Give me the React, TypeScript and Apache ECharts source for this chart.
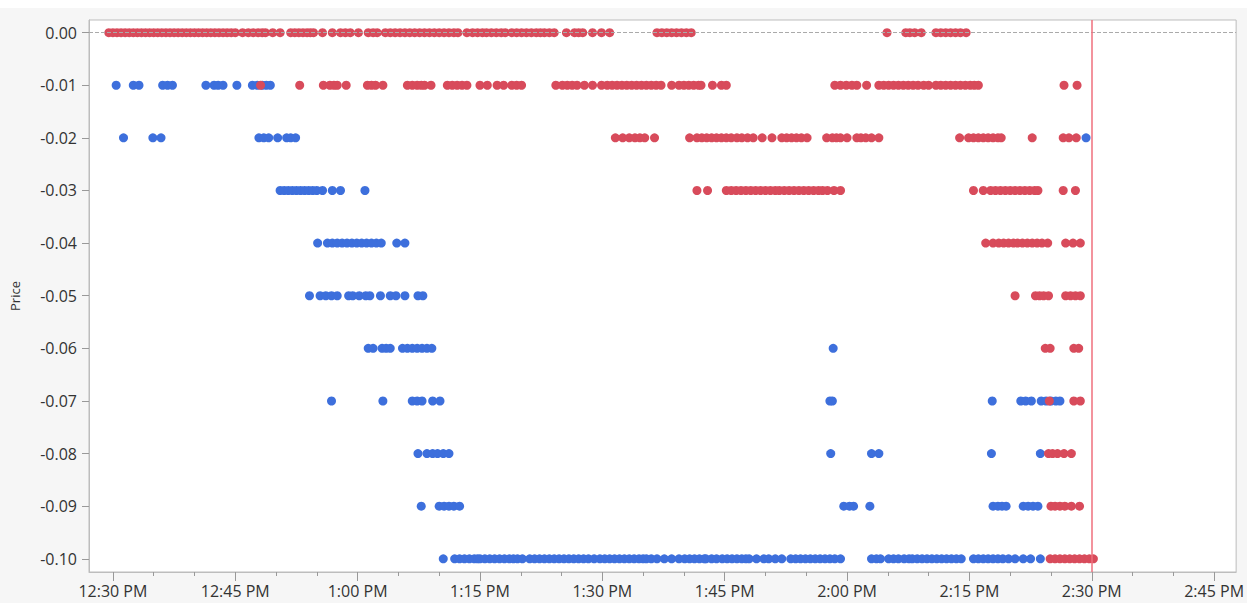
import * as echarts from "echarts";
import React, { useEffect, useRef } from "react";

// times are minutes after 12:00 PM
const red00 = [29.5, 30.0, 30.5, 31.0, 31.5, 32.0, 32.5, 33.0, 33.5, 34.0, 34.5, 35.0, 35.5, 36.0, 36.5, 37.0, 37.5, 38.0, 38.5, 39.0, 39.5, 40.0, 40.5, 41.0, 41.5, 42.0, 42.5, 43.0, 43.5, 44.0, 44.5, 45.0, 45.9, 46.6, 47.2, 47.8, 48.3, 48.7, 49.6, 50.5, 51.8, 52.3, 52.8, 53.3, 53.8, 54.2, 54.6, 55.7, 56.9, 57.9, 58.5, 59.1, 60.1, 61.3, 61.9, 62.4, 63.4, 64.0, 64.6, 65.2, 65.8, 66.4, 67.0, 67.6, 68.2, 68.8, 69.4, 70.0, 70.6, 71.2, 71.8, 72.3, 73.4, 74.1, 74.7, 75.3, 75.8, 76.4, 77.0, 77.6, 78.1, 78.9, 79.5, 80.1, 80.7, 81.3, 81.9, 82.4, 82.9, 83.5, 84.1, 85.6, 86.6, 87.1, 87.6, 88.8, 89.9, 90.9, 96.7, 97.3, 97.9, 98.5, 99.1, 99.7, 100.3, 100.9, 124.9, 127.2, 127.7, 128.3, 129.1, 130.9, 131.5, 132.1, 132.7, 133.3, 133.9, 134.6];
const red01 = [48.1, 52.9, 55.8, 56.6, 57.1, 57.5, 58.6, 61.2, 61.7, 62.2, 63.1, 66.1, 66.7, 67.3, 67.8, 68.2, 69.0, 71.0, 71.6, 72.2, 72.8, 73.4, 75.0, 75.9, 77.1, 77.9, 78.9, 79.5, 80.1, 84.3, 85.1, 85.7, 86.3, 86.9, 87.8, 88.8, 89.9, 90.6, 91.2, 91.8, 92.4, 93.0, 93.6, 94.2, 94.8, 95.4, 96.0, 96.6, 97.2, 98.5, 99.4, 100.0, 100.6, 101.2, 101.8, 102.1, 103.5, 104.6, 105.2, 118.5, 119.2, 119.9, 120.6, 121.2, 122.4, 123.9, 124.5, 125.1, 125.7, 126.3, 126.9, 127.5, 128.1, 128.7, 129.4, 130.0, 130.9, 131.5, 132.1, 132.7, 133.3, 133.9, 134.5, 135.1, 135.6, 136.1, 146.6, 148.2];
const red02 = [91.6, 92.5, 93.3, 94.0, 94.6, 95.2, 96.4, 100.7, 101.6, 102.2, 102.8, 103.4, 104.0, 104.6, 105.2, 105.8, 106.5, 107.1, 107.8, 108.5, 109.6, 110.8, 112.0, 112.6, 113.2, 113.8, 114.4, 115.1, 117.5, 118.2, 118.7, 119.2, 120.0, 121.2, 121.7, 122.3, 123.0, 123.9, 133.8, 134.9, 135.5, 136.1, 136.7, 137.3, 137.9, 138.5, 138.9, 142.7, 146.5, 147.2, 148.1];
const red03 = [101.6, 102.9, 105.2, 105.8, 106.4, 107.0, 107.6, 108.2, 108.8, 109.4, 110.0, 110.6, 111.2, 111.7, 112.3, 112.9, 113.5, 114.1, 114.7, 115.3, 115.9, 116.5, 117.0, 117.6, 118.4, 119.2, 135.5, 136.7, 137.6, 138.2, 138.8, 139.4, 140.0, 140.6, 141.2, 141.8, 142.4, 143.0, 143.4, 146.5, 148.0];
const red04 = [137.0, 137.9, 138.6, 139.2, 139.8, 140.4, 140.9, 141.5, 142.1, 142.7, 143.3, 143.9, 144.6, 146.8, 147.7, 148.6];
const red05 = [140.6, 143.1, 143.6, 144.1, 144.7, 146.8, 147.4, 148.0, 148.6];
const red06 = [144.3, 144.9, 147.8, 148.4];
const red07 = [144.8, 147.8, 148.6];
const red08 = [144.7, 145.2, 145.8, 146.6, 147.5];
const red09 = [145.0, 145.5, 146.1, 146.7, 147.5, 148.5];
const red10 = [144.9, 145.5, 146.1, 146.7, 147.3, 147.9, 148.5, 149.1, 149.7, 150.2];

const blue01 = [30.4, 32.5, 33.2, 36.1, 36.7, 37.3, 41.4, 42.4, 42.9, 43.5, 45.2, 47.1, 47.7, 48.3, 48.8, 49.3];
const blue02 = [31.3, 34.9, 35.9, 47.9, 48.5, 49.1, 50.2, 51.3, 51.8, 52.4, 149.3];
const blue03 = [50.5, 51.0, 51.5, 52.0, 52.5, 53.0, 53.5, 54.0, 54.5, 55.0, 55.7, 56.9, 57.9, 60.9];
const blue04 = [55.1, 56.3, 56.9, 57.5, 58.1, 58.7, 59.3, 59.9, 60.5, 61.1, 61.7, 62.3, 62.9, 64.8, 65.8];
const blue05 = [54.1, 55.4, 56.1, 56.8, 57.5, 58.9, 59.4, 60.2, 61.0, 61.5, 62.8, 64.0, 64.7, 65.8, 67.4, 68.0];
const blue06 = [61.3, 61.9, 63.0, 63.5, 64.0, 65.5, 66.1, 66.7, 67.3, 67.9, 68.5, 69.1, 118.3];
const blue07 = [56.8, 63.1, 66.7, 67.3, 67.9, 69.2, 70.1, 117.9, 118.2, 137.8, 141.3, 141.9, 142.6, 143.8, 144.4, 145.0, 145.6, 146.1];
const blue08 = [67.4, 68.5, 69.2, 69.8, 70.5, 71.2, 118.0, 123.0, 123.9, 137.7, 143.7];
const blue09 = [67.8, 70.0, 70.6, 71.2, 71.8, 72.5, 119.6, 120.3, 120.8, 122.8, 137.9, 138.5, 139.0, 139.5, 141.6, 142.2, 142.8, 143.4];
const blue10 = [70.5, 71.9, 72.5, 73.1, 73.7, 74.3, 74.7, 75.0, 75.6, 76.2, 76.8, 77.4, 78.0, 78.6, 79.1, 79.6, 80.2, 81.1, 81.7, 82.3, 82.9, 83.5, 84.1, 84.7, 85.3, 85.9, 86.5, 87.1, 87.7, 88.3, 89.0, 89.7, 90.3, 90.9, 91.5, 92.1, 92.7, 93.3, 93.9, 94.5, 95.0, 95.4, 96.0, 96.7, 97.6, 98.5, 99.4, 100.1, 100.7, 101.3, 101.9, 102.5, 102.7, 103.4, 104.0, 104.7, 105.3, 105.9, 106.5, 107.1, 107.6, 108.0, 108.9, 109.8, 110.4, 111.2, 112.0, 113.1, 113.7, 114.3, 114.9, 115.5, 116.1, 116.7, 117.3, 117.9, 118.5, 119.2, 123.0, 123.6, 124.1, 125.1, 125.7, 126.3, 127.0, 127.6, 128.0, 128.6, 129.2, 129.8, 130.4, 131.0, 131.6, 132.2, 132.8, 133.4, 134.0, 135.5, 136.1, 136.7, 137.3, 137.9, 138.5, 139.1, 139.8, 140.6, 141.6, 142.5, 143.7];

const priceTicks = [0, -0.01, -0.02, -0.03, -0.04, -0.05, -0.06, -0.07, -0.08, -0.09, -0.1];
const timeTicks = [30, 45, 60, 75, 90, 105, 120, 135, 150, 165];
const minorTimeTicks = [35, 40, 50, 55, 65, 70, 80, 85, 95, 100, 110, 115, 125, 130, 140, 145, 155, 160];
const cutoffTime = 150;

const redRows: [number, number[]][] = [
	[0, red00], [-0.01, red01], [-0.02, red02], [-0.03, red03], [-0.04, red04], [-0.05, red05],
	[-0.06, red06], [-0.07, red07], [-0.08, red08], [-0.09, red09], [-0.1, red10],
];
const blueRows: [number, number[]][] = [
	[-0.01, blue01], [-0.02, blue02], [-0.03, blue03], [-0.04, blue04], [-0.05, blue05],
	[-0.06, blue06], [-0.07, blue07], [-0.08, blue08], [-0.09, blue09], [-0.1, blue10],
];

const toPoints = (rows: [number, number[]][]) => rows.flatMap(([p, ts]) => ts.map((t) => [t, p]));

const fmtTime = (m: number) => {
	const h = Math.floor(m / 60);
	const mm = Math.round(m - h * 60);
	return `${h === 0 ? 12 : h}:${mm < 10 ? "0" + mm : mm} PM`;
};

const FONT = "Open Sans";

export default function App() {
	const ref = useRef<HTMLDivElement>(null);

	useEffect(() => {
		document.body.style.margin = "0";
		const chart = echarts.init(ref.current, undefined, { renderer: "svg" });
		chart.setOption({
			animation: false,
			backgroundColor: "#f6f6f6",
			grid: {
				left: 88,
				right: 9,
				top: 12,
				bottom: 31,
				show: true,
				backgroundColor: "#ffffff",
				borderColor: "#bdbdbd",
				borderWidth: 1,
			},
			xAxis: [
				{
					type: "value",
					min: 27.07,
					max: 167.7,
					position: "bottom",
					splitLine: { show: false },
					axisLine: { onZero: false, lineStyle: { color: "#bdbdbd", width: 1 } },
					axisTick: { customValues: timeTicks, length: 9, lineStyle: { color: "#999" } },
					axisLabel: {
						customValues: timeTicks,
						formatter: fmtTime,
						color: "#333",
						fontFamily: FONT,
						fontSize: 16,
						margin: 11,
					},
				},
				{
					type: "value",
					min: 27.07,
					max: 167.7,
					position: "bottom",
					splitLine: { show: false },
					axisLine: { show: false, onZero: false },
					axisTick: { customValues: minorTimeTicks, length: 4, lineStyle: { color: "#999" } },
					axisLabel: { show: false },
				},
			],
			yAxis: {
				type: "value",
				min: -0.1025,
				max: 0.0024,
				name: "Price",
				nameLocation: "middle",
				nameGap: 68,
				nameTextStyle: { color: "#333", fontFamily: FONT, fontSize: 13 },
				splitLine: { show: false },
				axisLine: { show: true, lineStyle: { color: "#bdbdbd" } },
				axisTick: { customValues: priceTicks, length: 7, lineStyle: { color: "#999" } },
				axisLabel: {
					customValues: priceTicks,
					formatter: (v: number) => v.toFixed(2),
					color: "#333",
					fontFamily: FONT,
					fontSize: 16,
					margin: 12,
				},
			},
			series: [
				{
					type: "scatter",
					symbol: "circle",
					symbolSize: 9,
					itemStyle: { color: "#3d6fdc", opacity: 1, borderWidth: 0 },
					data: toPoints(blueRows),
					markLine: {
						silent: true,
						symbol: "none",
						label: { show: false },
						lineStyle: { color: "#aaaaaa", type: "dashed", width: 1 },
						data: [{ yAxis: 0 }],
					},
				},
				{
					type: "scatter",
					symbol: "circle",
					symbolSize: 9,
					itemStyle: { color: "#d84b5b", opacity: 1, borderWidth: 0 },
					data: toPoints(redRows),
					markLine: {
						silent: true,
						symbol: "none",
						label: { show: false },
						lineStyle: { color: "#ef6f7c", type: "solid", width: 1.5 },
						data: [{ xAxis: cutoffTime }],
					},
				},
			],
		});
		return () => chart.dispose();
	}, []);

	return (
		<div style={{ background: "#fff", paddingTop: 8, width: 1247 }}>
			<div ref={ref} style={{ width: 1247, height: 595 }} />
		</div>
	);
}
